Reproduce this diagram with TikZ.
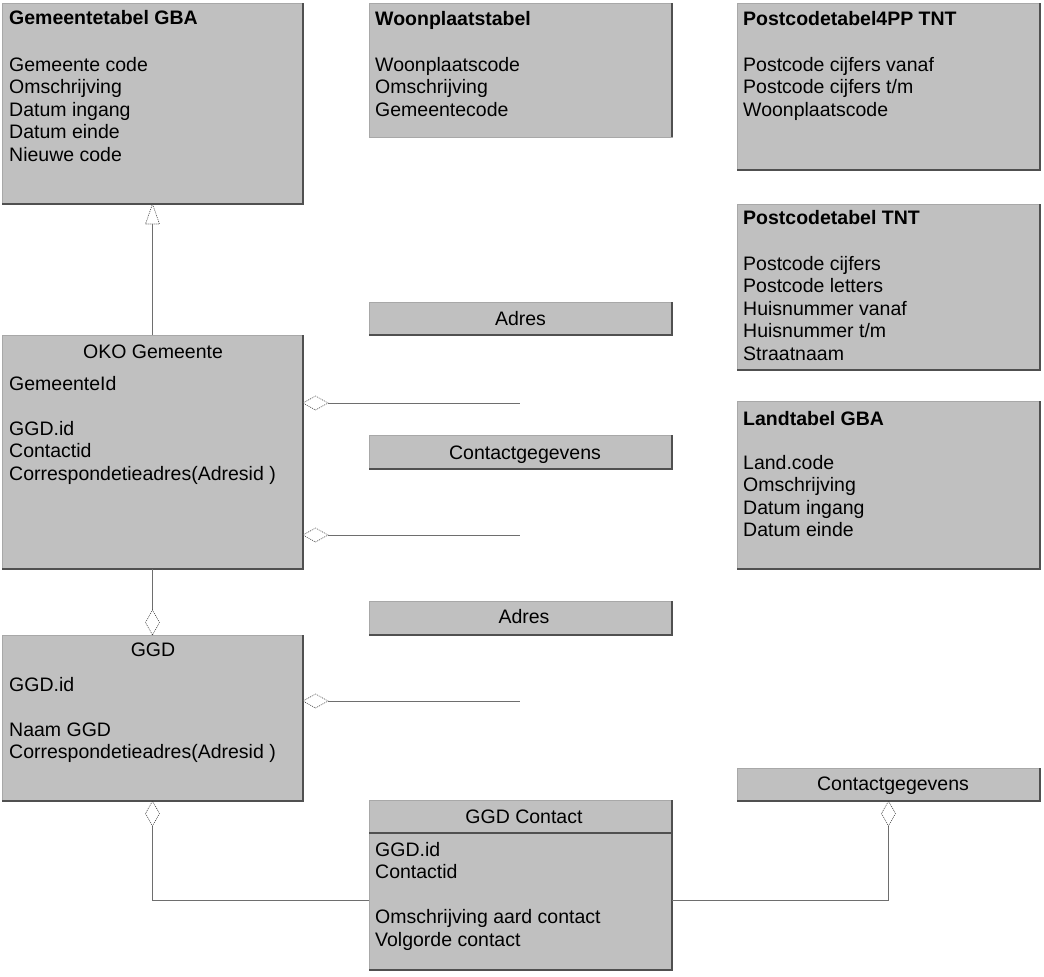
\documentclass[tikz,border=0pt]{standalone}
\usepackage{fontspec}
\setmainfont{Liberation Sans}
\usetikzlibrary{calc}
\definecolor{boxfill}{HTML}{C0C0C0}
\definecolor{edgedark}{HTML}{505050}
\definecolor{edgelight}{HTML}{A8A8A8}
\definecolor{conncol}{HTML}{6E6E6E}
\newcommand{\diamR}[1]{\draw[diam] (#1) -- ++(12.5,-7) -- ++(12.5,7) -- ++(-12.5,7) -- cycle;}
\newcommand{\diamD}[1]{\draw[diam] (#1) -- ++(7,12.5) -- ++(-7,12.5) -- ++(-7,-12.5) -- cycle;}
\newcommand{\diamU}[1]{\draw[diam] (#1) -- ++(7,-12.5) -- ++(-7,-12.5) -- ++(-7,12.5) -- cycle;}
\begin{document}
\begin{tikzpicture}[x=1pt,y=-1pt,
  box/.style={fill=boxfill, draw=edgelight, line width=0.8pt, inner sep=0pt, outer sep=0pt, anchor=north west},
  darkedge/.style={draw=edgedark, line width=1.4pt},
  ttl/.style={font=\fontsize{19.5}{22.5}\selectfont\bfseries, anchor=base west, inner sep=0pt},
  ctitle/.style={font=\fontsize{19.5}{22.5}\selectfont, anchor=base, inner sep=0pt},
  fields/.style={font=\fontsize{19.5}{22.5}\selectfont, anchor=north west, align=left, inner sep=0pt},
  conn/.style={draw=conncol, line width=0.8pt},
  diam/.style={draw=black!75, line width=0.6pt, dash pattern=on 1pt off 1pt, fill=white}]
\useasboundingbox (0,0) rectangle (1044,977);

% ---------- boxes ----------
\node[box, minimum width=301pt, minimum height=201pt] (gem) at (2,3) {};
\node[box, minimum width=303pt, minimum height=134pt] (woon) at (369,3) {};
\node[box, minimum width=303pt, minimum height=167pt] (pc4) at (737,3) {};
\node[box, minimum width=303pt, minimum height=166pt] (pct) at (737,204) {};
\node[box, minimum width=303pt, minimum height=33pt] (adr1) at (369,302) {};
\node[box, minimum width=301pt, minimum height=234pt] (oko) at (2,335) {};
\node[box, minimum width=303pt, minimum height=34pt] (cg1) at (369,435) {};
\node[box, minimum width=303pt, minimum height=168pt] (land) at (737,401) {};
\node[box, minimum width=303pt, minimum height=34pt] (adr2) at (369,601) {};
\node[box, minimum width=301pt, minimum height=166pt] (ggd) at (2,635) {};
\node[box, minimum width=303pt, minimum height=33pt] (cg2) at (737,768) {};
\node[box, minimum width=303pt, minimum height=170pt] (ggdc) at (369,800) {};

% dark right / bottom edges
\foreach \b in {gem,pc4,pct,adr1,oko,cg1,land,adr2,ggd,cg2,ggdc}
  \draw[darkedge] (\b.north east) -- (\b.south east) -- (\b.south west);
\draw[darkedge] (woon.north east) -- (woon.south east);
\draw[darkedge] ($(ggdc.north west)+(0,33)$) -- ($(ggdc.north east)+(0,33)$);

% ---------- texts ----------
\node[ttl] (tgem) at (9,24) {Gemeentetabel GBA};
\node[fields] (fgem) at (9,57) {Gemeente code\\Omschrijving\\Datum ingang\\Datum einde\\Nieuwe code};

\node[ttl] (twoon) at (375,25) {Woonplaatstabel};
\node[fields] (fwoon) at (375,57) {Woonplaatscode\\Omschrijving\\Gemeentecode};

\node[ttl] (tpc4) at (743,25) {Postcodetabel4PP TNT};
\node[fields] (fpc4) at (743,57) {Postcode cijfers vanaf\\Postcode cijfers t/m\\Woonplaatscode};

\node[ttl] (tpct) at (743,224) {Postcodetabel TNT};
\node[fields] (fpct) at (743,256) {Postcode cijfers\\Postcode letters\\Huisnummer vanaf\\Huisnummer t/m\\Straatnaam};

\node[ctitle] (tadr1) at (520.5,325) {Adres};

\node[ctitle] (toko) at (153,358) {OKO Gemeente};
\node[fields] (foko) at (9,376) {GemeenteId\\[22.5pt]GGD.id\\Contactid\\Correspondetieadres(Adresid )};

\node[ctitle] (tcg1) at (525,459) {Contactgegevens};

\node[ttl] (tland) at (743,425) {Landtabel GBA};
\node[fields] (fland) at (743,455) {Land.code\\Omschrijving\\Datum ingang\\Datum einde};

\node[ctitle] (tadr2) at (524,623) {Adres};

\node[ctitle] (tggd) at (153,656) {GGD};
\node[fields] (fggd) at (9,677) {GGD.id\\[22.5pt]Naam GGD\\Correspondetieadres(Adresid )};

\node[ctitle] (tggdc) at (524,823) {GGD Contact};
\node[fields] (fggdc) at (375,842) {GGD.id\\Contactid\\[22.5pt]Omschrijving aard contact\\Volgorde contact};

\node[ctitle] (tcg2) at (893,790) {Contactgegevens};

% ---------- connectors ----------
\coordinate (fa) at (520,403);
\coordinate (fb) at (520,535);
\coordinate (fc) at (520,701);
\coordinate (busy) at (0,900);

% generalization OKO -> Gemeentetabel
\draw[conn] (oko.north) -- ($(gem.south)+(0,20)$);
\draw[diam] (gem.south) -- ++(7,20) -- ++(-14,0) -- cycle;

% aggregations from OKO Gemeente
\draw[conn] (oko.east |- fa) ++(25,0) -- (fa);
\diamR{oko.east |- fa}
\draw[conn] (oko.east |- fb) ++(25,0) -- (fb);
\diamR{oko.east |- fb}

% OKO -> GGD
\draw[conn] (oko.south) -- ($(ggd.north)+(0,-25)$);
\diamU{ggd.north}

% GGD -> Adres
\draw[conn] (ggd.east |- fc) ++(25,0) -- (fc);
\diamR{ggd.east |- fc}

% GGD -> GGD Contact
\draw[conn] ($(ggd.south)+(0,25)$) |- (ggdc.west |- busy);
\diamD{ggd.south}

% GGD Contact -> Contactgegevens
\draw[conn] (ggdc.east |- busy) -| ($(cg2.south)+(0,25)$);
\diamD{cg2.south}
\end{tikzpicture}
\end{document}
